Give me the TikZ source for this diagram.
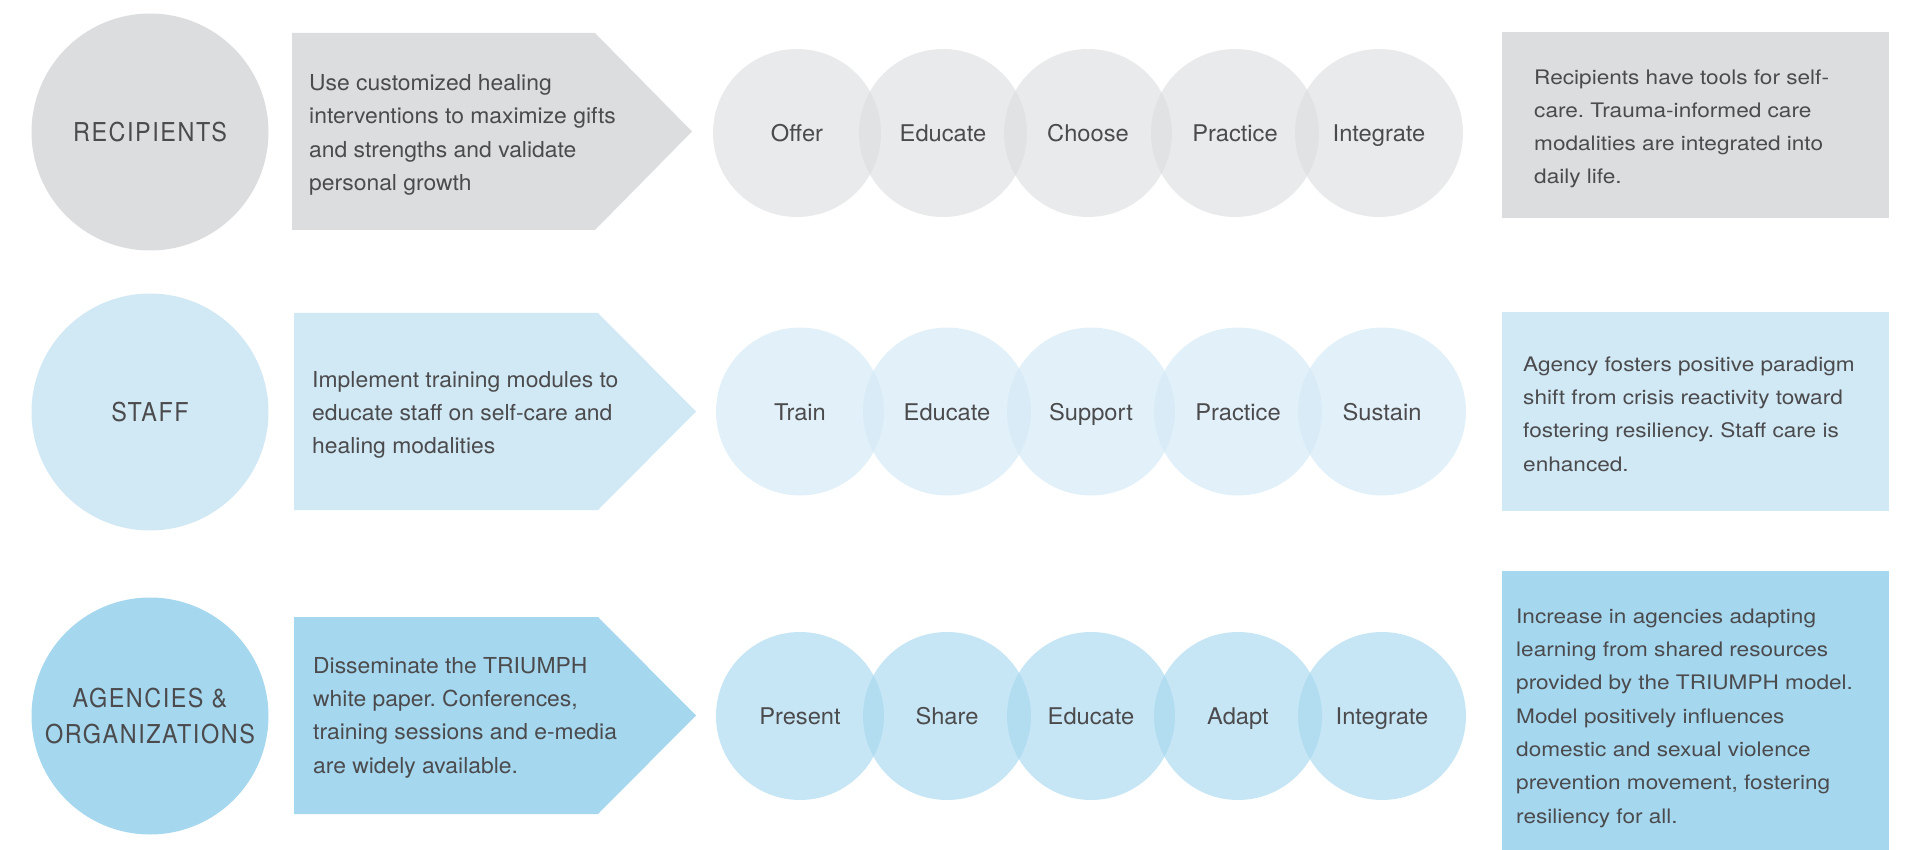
\documentclass[tikz,border=0pt]{standalone}
\usepackage{fontspec}
\setmainfont{TeX Gyre Heros}
\newfontfamily\arrf{TeX Gyre Heros}[FakeStretch=1.04]
\newfontfamily\circf{TeX Gyre Heros}[FakeStretch=1.03]
\newfontfamily\boxf{TeX Gyre Heros}[FakeStretch=1.13]
\newfontfamily\capf{TeX Gyre Heros}[FakeStretch=0.9,LetterSpace=6]
\definecolor{txt}{HTML}{4B4B4D}
\definecolor{cA}{HTML}{DCDDDF}
\definecolor{cB}{HTML}{D1E8F5}
\definecolor{cC}{HTML}{A5D7EF}
\tikzset{
  bigc/.style={circle, minimum size=237pt, inner sep=0pt, text=txt,
    font=\capf\fontsize{26}{36}\selectfont, align=center},
  smallc/.style={circle, minimum size=168pt, inner sep=0pt, fill opacity=0.62,
    text opacity=1, text=txt, font=\circf\fontsize{23}{28}\selectfont,
    text height=17pt, text depth=0pt},
  arrowtxt/.style={text=txt, font=\arrf\fontsize{22}{33.3}\selectfont,
    align=left, inner sep=0pt, anchor=base west},
  boxtxt/.style={text=txt, font=\boxf\fontsize{20}{33.3}\selectfont,
    align=left, inner sep=0pt, anchor=base west},
}
\frenchspacing
\begin{document}
\begin{tikzpicture}[x=1pt,y=-1pt]
\useasboundingbox (0,0) rectangle (1915,850);

% ---------- Row 1: Recipients ----------
\node[bigc, fill=cA] (r1) at (150,132) {RECIPIENTS};
\fill[cA] (292,33) -- (595,33) -- (692,131.5) -- (595,230) -- (292,230) -- cycle;
% anchor base west = baseline of the last line
\node[arrowtxt] (a1) at (309,190.6) {Use customized healing\\interventions to maximize gifts\\and strengths and validate\\personal growth};
\node[smallc, fill=cA] (r1c1) at (797,133) {Offer};
\node[smallc, fill=cA] (r1c2) at (943,133) {Educate};
\node[smallc, fill=cA] (r1c3) at (1088,133) {Choose};
\node[smallc, fill=cA] (r1c4) at (1235,133) {Practice};
\node[smallc, fill=cA] (r1c5) at (1379,133) {Integrate};
\fill[cA] (1502,32) rectangle (1889,218);
\node[boxtxt] (b1) at (1534,184) {Recipients have tools for self-\\care. Trauma-informed care\\modalities are integrated into\\daily life.};

% ---------- Row 2: Staff ----------
\node[bigc, fill=cB] (r2) at (150,412) {STAFF};
\fill[cB] (294,313) -- (598,313) -- (696,411.5) -- (598,510) -- (294,510) -- cycle;
\node[arrowtxt] (a2) at (312,453.6) {Implement training modules to\\educate staff on self-care and\\healing modalities};
\node[smallc, fill=cB] (r2c1) at (800,411.5) {Train};
\node[smallc, fill=cB] (r2c2) at (947,411.5) {Educate};
\node[smallc, fill=cB] (r2c3) at (1091,411.5) {Support};
\node[smallc, fill=cB] (r2c4) at (1238,411.5) {Practice};
\node[smallc, fill=cB] (r2c5) at (1382,411.5) {Sustain};
\fill[cB] (1502,312) rectangle (1889,511);
\node[boxtxt] (b2) at (1523,471) {Agency fosters positive paradigm\\shift from crisis reactivity toward\\fostering resiliency. Staff care is\\enhanced.};

% ---------- Row 3: Agencies & Organizations ----------
\node[bigc, fill=cC] (r3) at (150,716) {AGENCIES \&\\ORGANIZATIONS};
\fill[cC] (294,617) -- (598,617) -- (696,715.5) -- (598,814) -- (294,814) -- cycle;
\node[arrowtxt] (a3) at (313,773) {Disseminate the TRIUMPH\\white paper. Conferences,\\training sessions and e-media\\are widely available.};
\node[smallc, fill=cC] (r3c1) at (800,716) {Present};
\node[smallc, fill=cC] (r3c2) at (947,716) {Share};
\node[smallc, fill=cC] (r3c3) at (1091,716) {Educate};
\node[smallc, fill=cC] (r3c4) at (1238,716) {Adapt};
\node[smallc, fill=cC] (r3c5) at (1382,716) {Integrate};
\fill[cC] (1502,571) rectangle (1889,850);
\node[boxtxt] (b3) at (1516,823) {Increase in agencies adapting\\learning from shared resources\\provided by the TRIUMPH model.\\Model positively influences\\domestic and sexual violence\\prevention movement, fostering\\resiliency for all.};
\end{tikzpicture}
\end{document}
